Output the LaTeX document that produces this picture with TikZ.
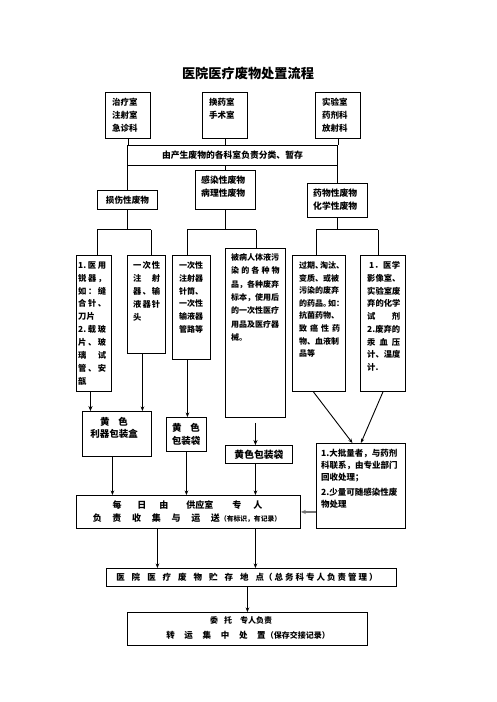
\documentclass[tikz,border=0pt]{standalone}
\usepackage{fontspec}
\setmainfont{Noto Sans CJK SC}
\usetikzlibrary{arrows.meta}
\setlength\parindent{0pt}
\newcommand\fz[2]{\fontsize{#1}{#2}\selectfont\bfseries}
\newcommand\bx[5]{%
  \pgfmathsetmacro\bxw{#4-#2}\pgfmathsetmacro\bxh{#5-#3}%
  \node[boxst, minimum width=\bxw pt, minimum height=\bxh pt, anchor=north west] (#1) at (#2,#3) {};}
\newcommand\gp{\kern2pt}
\begin{document}
\begin{tikzpicture}[x=1pt,y=-1pt,
  boxst/.style={draw, line width=0.9pt, inner sep=0pt},
  txt/.style={inner sep=0pt, anchor=north west, align=left},
  ctr/.style={inner sep=0pt, anchor=center},
  conn/.style={line width=0.9pt},
  arr/.style={line width=0.9pt, -{Stealth[length=4.5pt,width=3.6pt]}},
  tarr/.style={line width=1.7pt, -{Stealth[length=5pt,width=4.2pt]}},
  garr/.style={line width=1.6pt, draw=black!55, -{Stealth[length=5pt,width=4.2pt]}}]
\useasboundingbox[fill=white] (0,0) rectangle (496,702);

\node[ctr, font=\fz{13.2}{15}] (title) at (248,73) {医院医疗废物处置流程};

% top row
\bx{T1}{105}{92}{150}{138}
\bx{T2}{202}{92}{247}{138}
\bx{T3}{315}{92}{360}{138}
\node[txt, font=\fz{8.5}{13}] (t1) at (112,98.2) {治疗室\\注射室\\急诊科};
\node[txt, font=\fz{8.5}{13}] (t2) at (209,98.2) {换药室\\手术室};
\node[txt, font=\fz{8.5}{13}] (t3) at (322,98.2) {实验室\\药剂科\\放射科};

\bx{L1}{127}{145}{337}{165}
\node[ctr, font=\fz{8.8}{10}] (l1) at (L1.center) {由产生废物的各科室负责分类、暂存};

\draw[conn] (T1.south) -- (T1.south |- L1.north);
\draw[conn] (T2.south) -- (T2.south |- L1.north);
\draw[conn] (T3.south) -- (T3.south |- L1.north);

% categories
\bx{C1}{97}{190}{157}{209}
\bx{C2}{195}{170}{255}{209}
\bx{C3}{307}{183}{367}{217}
\node[ctr, font=\fz{8.6}{10}] (c1) at (C1.center) {损伤性废物};
\node[txt, font=\fz{8.8}{13}] (c2) at (201,176) {感染性废物\\病理性废物};
\node[txt, font=\fz{8.8}{12.5}] (c3) at (313,189) {药物性废物\\化学性废物};

\draw[conn] (C1.north |- L1.south) -- (C1.north);
\draw[conn] (C2.north |- L1.south) -- (C2.north);
\draw[conn] (C3.north |- L1.south) -- (C3.north);

% detail boxes
\bx{A}{76}{255}{111}{391}
\bx{B}{127}{255}{165}{353}
\bx{C}{172}{255}{210}{359}
\bx{D}{225}{248}{285}{417}
\bx{E}{292}{255}{345}{391}
\bx{F}{360}{255}{405}{391}

\node[txt, text width=28pt, font=\fz{8.3}{12.9}] (ta) at (78,261.3)
 {1.\hfill 医\hfill 用\\锐\hfill 器\hfill ，\\如\hfill ：\hfill 缝\\合\hfill 针\hfill 、\\刀片\\2.\hfill 载\hfill 玻\\片\hfill 、\hfill 玻\\璃\hfill 试\\管\hfill 、\hfill 安\\瓿};
\node[txt, text width=27pt, font=\fz{8.3}{13}] (tb) at (133,261.3)
 {一\hfill 次\hfill 性\\注\hfill 射\\器\hfill 、\hfill 输\\液\hfill 器\hfill 针\\头};
\node[txt, text width=24.5pt, font=\fz{8}{12.8}] (tc) at (179,261.4)
 {一次性\\注射器\\针筒、\\一次性\\输液器\\管路等};
\node[txt, text width=48.5pt, font=\fz{8}{13.3}] (td) at (231,253.4)
 {被病人体液污\\染\hfill 的\hfill 各\hfill 种\hfill 物\\品，各种废弃\\标本，使用后\\的一次性医疗\\用品及医疗器\\械。};
\node[txt, text width=41pt, font=\fz{8}{12.6}] (te) at (299,261.4)
 {过期、\kern-3pt 淘汰、\\变质、或被\\污染的废弃\\的药品。\kern-3pt 如：\\抗菌药物、\\致\hfill 癌\hfill 性\hfill 药\\物、血液制\\品等};
\node[txt, text width=33pt, font=\fz{8.3}{12.75}] (tf) at (367,261.3)
 {\hspace{2pt}1．\hfill 医\hfill 学\\影像室、\\实验室废\\弃的化学\\试\hfill 剂\\2.\hfill 废弃的\\汞\hfill 血\hfill 压\\计、温度\\计.};

% brackets
\coordinate (kA) at (97,229.5);
\coordinate (kB) at (151,229.5);
\coordinate (kC) at (187,229.5);
\coordinate (kD) at (256,229.5);
\coordinate (kE) at (316,229.5);
\coordinate (kF) at (378,229.5);
\draw[conn] (C1.south) -- (C1.south |- kA);
\draw[conn] (kA) -- (kB);
\draw[conn] (kA) -- (kA |- A.north);
\draw[conn] (kB) -- (kB |- B.north);
\draw[conn] (C2.south) -- (C2.south |- kC);
\draw[conn] (kC) -- (kD);
\draw[conn] (kC) -- (kC |- C.north);
\draw[conn] (kD) -- (kD |- D.north);
\draw[conn] (C3.south) -- (C3.south |- kE);
\draw[conn] (kE) -- (kF);
\draw[conn] (kE) -- (kE |- E.north);
\draw[conn] (kF) -- (kF |- F.north);

% packaging
\bx{P1}{82}{411}{151}{456}
\bx{P2}{166}{417}{206}{451}
\bx{P3}{225}{445}{292}{463}
\bx{R}{316}{443}{405}{528}
\node[inner sep=0pt, anchor=north, align=center, font=\fz{9.5}{12}] (p1) at (114,416.7) {黄\hspace{9pt}色\\利器包装盒};
\node[inner sep=0pt, anchor=north, align=center, font=\fz{9.5}{13}] (p2) at (186,422.7) {黄\hspace{9pt}色\\包装袋};
\node[ctr, font=\fz{9.8}{11}] (p3) at (P3.center) {黄色包装袋};
\node[txt, font=\fz{8.5}{12}] (r) at (321,449.2) {1.大批量者，与药剂\\科联系，由专业部门\\回收处理；\\[2.5pt]2.少量可随感染性废\\物处理};

\draw[tarr] ([xshift=-3.5pt]A.south) -- ([xshift=-3.5pt]A.south |- P1.north);
\draw[arr] ([xshift=-4pt]B.south) -- ([xshift=-4pt]B.south |- P1.north);
\draw[arr] ([xshift=-4pt]C.south) -- ([xshift=-4pt]C.south |- P2.north);
\draw[tarr] ([yshift=-5pt]D.south) -- (D.south |- P3.north);
\draw[arr] ([xshift=-5.5pt]E.south) -- ([xshift=-8.5pt]R.north);
\draw[arr] (F.south) -- (R.north);

% collection
\bx{M}{76}{495}{300}{528}
\node[ctr, font=\fz{9}{11}] (m1) at (187.5,505) {每\hspace{16pt}日\hspace{13pt}由\hspace{18pt}供应室\hspace{19pt}专\hspace{12pt}人};
\node[ctr, font=\fz{9}{11}] (m2) at (187,518) {负\hspace{10.7pt}责\hspace{10.7pt}收\hspace{10.7pt}集\hspace{10.7pt}与\hspace{10.7pt}运\hspace{10.7pt}送{\fontsize{6.8}{8}\selectfont（有标识，有记录）}};

\draw[arr] ([xshift=-4.5pt]P1.south) -- ([xshift=-4.5pt]P1.south |- M.north);
\draw[arr] (P2.south) -- (P2.south |- M.north);
\draw[arr] ([xshift=-3.5pt]P3.south) -- ([xshift=-3.5pt]P3.south |- M.north);
\draw[garr] (R.west |- M.east) -- (M.east);

% storage
\bx{S}{106}{568}{396}{586}
\node[ctr, font=\fz{8.5}{10}] (s) at (247,577) {医\hspace{7pt}院\hspace{7pt}医\hspace{7pt}疗\hspace{7pt}废\hspace{7pt}物\hspace{7pt}贮\hspace{7pt}存\hspace{7pt}地\hspace{7pt}点（\gp 总\gp 务\gp 科\gp 专\gp 人\gp 负\gp 责\gp 管\gp 理\gp ）};
\draw[arr] ([xshift=-31pt]M.south) -- ([xshift=-31pt]M.south |- S.north);
\draw[arr] ([xshift=67pt]M.south) -- ([xshift=67pt]M.south |- S.north);

% transfer
\bx{V}{127}{612}{367}{645}
\node[ctr, font=\fz{8}{10}] (v1) at (241,620) {委\hspace{6pt}托\hspace{8pt}专人负责};
\node[ctr, font=\fz{8.5}{10}] (v2) at (248,635) {转\hspace{9.7pt}运\hspace{9.7pt}集\hspace{9.7pt}中\hspace{9.7pt}处\hspace{9.7pt}置{\fontsize{8}{10}\selectfont（保存交接记录）}};
\draw[arr] (V.north |- S.south) -- (V.north);
\end{tikzpicture}
\end{document}
